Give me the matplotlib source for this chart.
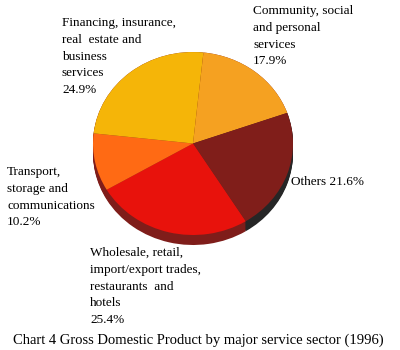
import matplotlib
matplotlib.use("Agg")
import matplotlib.pyplot as plt
import numpy as np

labels = ["Community, social\nand personal\nservices\n17.9%",
          "Others 21.6%",
          "Wholesale, retail,\nimport/export trades,\nrestaurants  and\nhotels\n25.4%",
          "Transport,\nstorage and\ncommunications\n10.2%",
          "Financing, insurance,\nreal  estate and\nbusiness\nservices\n24.9%"]
values = [17.9, 21.6, 25.4, 10.2, 24.9]
top_colors = ["#F5A121", "#801E1A", "#E8120C", "#FF6A14", "#F5B508"]
side_colors = ["#7F1D1A", "#262626", "#7F1D1A", "#7F1D1A", "#7F1D1A"]
title = "Chart 4 Gross Domestic Product by major service sector (1996)"

W, H = 400, 350
fig = plt.figure(figsize=(W / 100, H / 100), dpi=100)

# pie axes: top face spans x 93-293, y 52-235 px; depth ~10 px
x0, x1, y0, y1 = 93, 293, 52, 245
ax = fig.add_axes([x0 / W, 1 - y1 / H, (x1 - x0) / W, (y1 - y0) / H])
depth = 10 / 91.5
for k in range(11):
    off = -depth + depth * k / 10
    ax.pie(values, colors=side_colors, startangle=84, counterclock=False,
           center=(0, off), radius=1, wedgeprops=dict(linewidth=0))
ax.pie(values, colors=top_colors, startangle=84, counterclock=False,
       center=(0, 0), radius=1, wedgeprops=dict(linewidth=0))
ax.set_aspect("auto")
ax.set_xlim(-1, 1)
ax.set_ylim(-1 - depth, 1)
ax.axis("off")

# overlay for text in pixel coords
tx = fig.add_axes([0, 0, 1, 1])
tx.set_xlim(0, W)
tx.set_ylim(H, 0)
tx.axis("off")
font = dict(family="Liberation Serif", fontsize=9.5, color="black", linespacing=1.53)
pos = [(253, 5), (291, 182), (90, 247), (7, 166), (62, 17)]
for lab, (px, py) in zip(labels, pos):
    if lab.startswith("Others"):
        tx.text(px, py, lab, ha="left", va="center", **font)
    else:
        tx.text(px, py, lab, ha="left", va="top", **font)
tx.text(198, 340, title, ha="center", va="center", family="Liberation Serif",
        fontsize=10.5, color="black")

fig.savefig("out.png", dpi=100)
